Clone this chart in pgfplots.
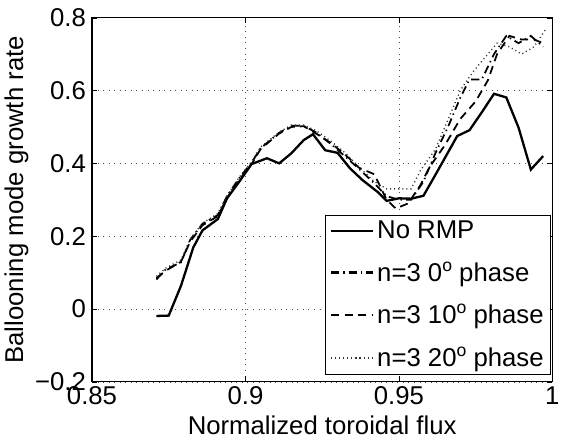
\documentclass[border=0pt]{standalone}
\usepackage{fontspec}
\setmainfont{Liberation Sans}
\usepackage{pgfplots}
\pgfplotsset{compat=1.18}

% MATLAB-style figure, 1px ~ 0.75pt
\newcommand{\dego}{\raisebox{0.75ex}{\fontsize{13}{13}\selectfont o}}
\begin{document}
\begin{tikzpicture}
\begin{axis}[
    scale only axis,
    width=340pt, height=269pt,
    xmin=0.85, xmax=1, ymin=-0.2, ymax=0.8,
    xtick={0.85,0.9,0.95,1},
    xticklabels={0.85,0.9,0.95,1},
    ytick={-0.2,0,0.2,0.4,0.6,0.8},
    yticklabels={−0.2,0,0.2,0.4,0.6,0.8},
    tick align=inside,
    ticklabel style={font=\fontsize{19}{21}\selectfont},
    label style={font=\fontsize{19}{21}\selectfont},
    /pgf/number format/assume math mode=true,
    xtick style={black}, ytick style={black},
    xticklabel style={yshift=0pt},
    yticklabel style={xshift=-1pt},
    xlabel={Normalized toroidal flux},
    ylabel={Ballooning mode growth rate},
    xlabel style={yshift=-1pt},
    ylabel style={yshift=-2pt},
    grid=major,
    major grid style={black!70, line width=0.5pt, dash pattern=on 0.6pt off 3.5pt},
    axis line style={line width=0.8pt},
    major tick length=4pt,
    legend style={at={(0.997,0.02)}, anchor=south east, draw=black, line width=0.8pt,
        font=\fontsize{19}{21}\selectfont, cells={anchor=west},
        row sep=11.5pt, inner xsep=3pt, inner ysep=2pt},
    legend image post style={line width=1.6pt},
    legend image code/.code={\draw[#1] (0cm,0cm) -- (1.1cm,0cm);},
]
\addplot[black, line width=1.7pt] coordinates {
(0.871,-0.019) (0.875,-0.018) (0.879,0.064) (0.883,0.169) (0.886,0.216)
(0.891,0.247) (0.894,0.304) (0.898,0.350) (0.902,0.398) (0.907,0.414)
(0.911,0.400) (0.915,0.428) (0.919,0.464) (0.922,0.480) (0.926,0.436)
(0.930,0.429) (0.934,0.387) (0.938,0.355) (0.943,0.322) (0.946,0.297)
(0.950,0.304) (0.954,0.303) (0.958,0.311) (0.962,0.370) (0.966,0.430)
(0.969,0.475) (0.973,0.491) (0.977,0.540) (0.981,0.591) (0.985,0.581)
(0.989,0.498) (0.993,0.383) (0.997,0.420)
};
\addlegendentry{No RMP}
\addplot[black, line width=1.3pt, dash pattern=on 6pt off 3pt on 1pt off 3pt] coordinates {
(0.871,0.081) (0.874,0.109) (0.879,0.128) (0.882,0.190) (0.886,0.234)
(0.891,0.258) (0.894,0.310) (0.898,0.360) (0.902,0.402) (0.905,0.442)
(0.911,0.484) (0.915,0.503) (0.919,0.503) (0.923,0.485) (0.928,0.452)
(0.933,0.415) (0.937,0.385) (0.942,0.345) (0.946,0.310) (0.950,0.300)
(0.954,0.300) (0.958,0.350) (0.962,0.430) (0.966,0.500) (0.970,0.580)
(0.973,0.630) (0.977,0.630) (0.981,0.700) (0.985,0.750) (0.989,0.730)
(0.993,0.750) (0.997,0.720)
};
\addlegendentry{n=3 0\dego{} phase}
\addplot[black, line width=1.3pt, dash pattern=on 6pt off 4pt] coordinates {
(0.871,0.085) (0.874,0.105) (0.879,0.130) (0.882,0.185) (0.886,0.230)
(0.891,0.255) (0.894,0.305) (0.898,0.355) (0.902,0.398) (0.905,0.440)
(0.911,0.482) (0.915,0.500) (0.919,0.502) (0.923,0.482) (0.928,0.455)
(0.933,0.420) (0.937,0.388) (0.942,0.370) (0.946,0.300) (0.949,0.276)
(0.953,0.290) (0.957,0.340) (0.960,0.390) (0.965,0.450) (0.970,0.522)
(0.975,0.570) (0.979,0.628) (0.982,0.700) (0.986,0.750) (0.990,0.740)
(0.994,0.740) (0.997,0.730)
};
\addlegendentry{n=3 10\dego{} phase}
\addplot[black!80, line width=1.0pt, dash pattern=on 0.8pt off 2.2pt] coordinates {
(0.871,0.090) (0.874,0.112) (0.879,0.135) (0.882,0.192) (0.886,0.236)
(0.891,0.262) (0.894,0.312) (0.898,0.362) (0.902,0.405) (0.905,0.445)
(0.911,0.486) (0.915,0.505) (0.919,0.505) (0.923,0.490) (0.928,0.460)
(0.933,0.425) (0.937,0.390) (0.942,0.350) (0.946,0.330) (0.950,0.330)
(0.954,0.330) (0.957,0.380) (0.962,0.440) (0.966,0.520) (0.970,0.600)
(0.974,0.650) (0.978,0.690) (0.982,0.730) (0.986,0.720) (0.990,0.700)
(0.994,0.720) (0.998,0.770)
};
\addlegendentry{n=3 20\dego{} phase}
\end{axis}
\path ([yshift=3pt]current bounding box.north) ++(0,0);
\end{tikzpicture}
\end{document}
